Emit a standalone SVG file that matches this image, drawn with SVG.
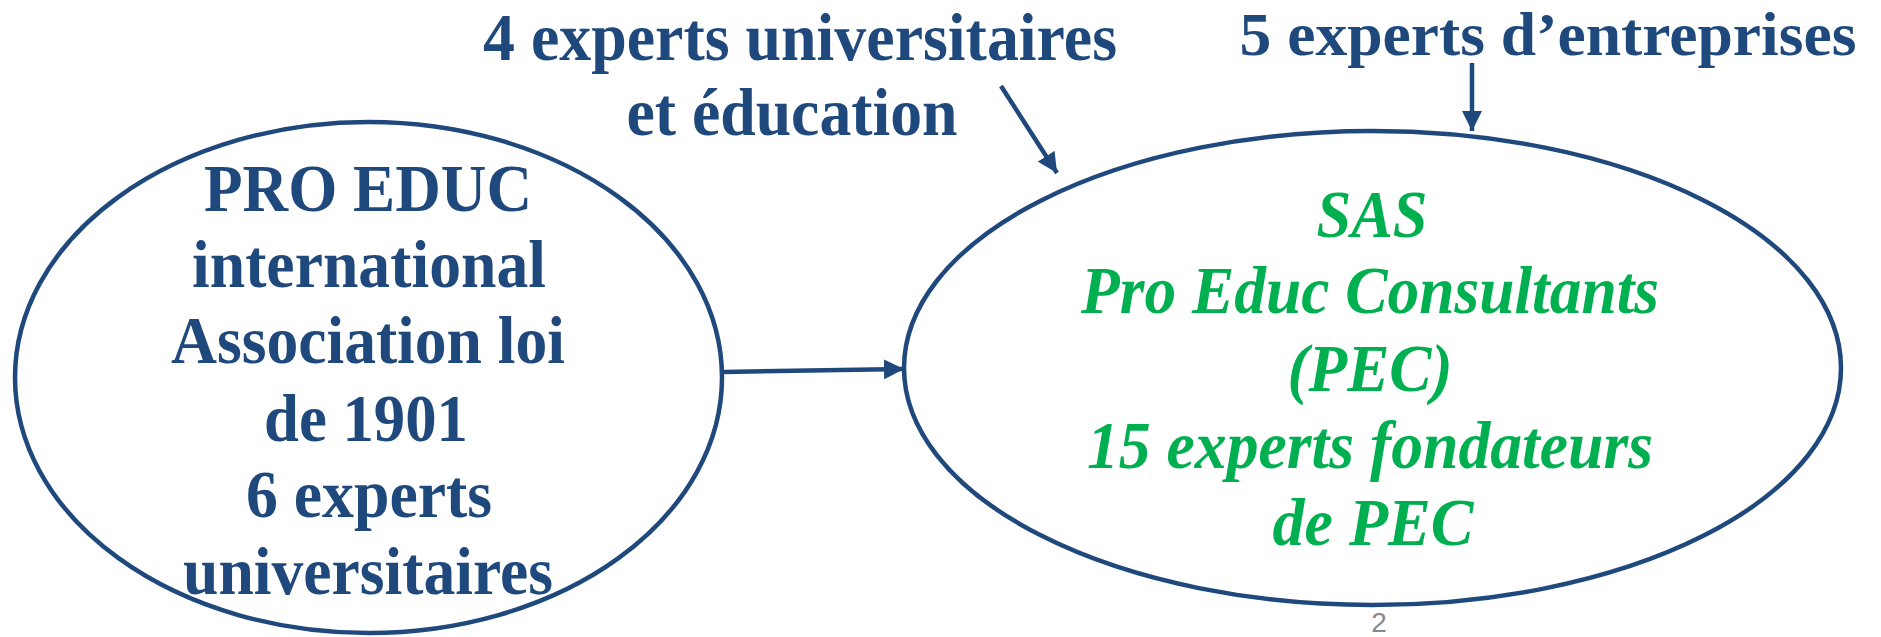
<svg xmlns="http://www.w3.org/2000/svg" width="1881" height="637" viewBox="0 0 1881 637">
<style>
.blue{font-family:"Liberation Serif","Times New Roman",serif;font-weight:bold;font-size:68px;fill:#1F497D;text-anchor:middle}
.green{font-family:"Liberation Serif","Times New Roman",serif;font-weight:bold;font-style:italic;font-size:68px;fill:#00B050;text-anchor:middle}
.node{fill:none;stroke:#1F497D;stroke-width:4.5}
.conn{stroke:#1F497D;stroke-width:4.5;fill:none;marker-end:url(#ah)}
</style>
<defs>
<marker id="ah" markerUnits="userSpaceOnUse" markerWidth="22" markerHeight="20" refX="20" refY="10" orient="auto">
<path d="M0,0 L20,10 L0,20 Z" fill="#1F497D"/>
</marker>
</defs>
<rect width="1881" height="637" fill="#FFFFFF"/>
<g id="label-univ">
<text class="blue" x="800" y="60" textLength="634" lengthAdjust="spacingAndGlyphs">4 experts universitaires</text>
<text class="blue" x="792" y="135" textLength="331" lengthAdjust="spacingAndGlyphs">et éducation</text>
</g>
<g id="label-entreprises">
<text class="blue" x="1548" y="55" font-size="62" style="font-size:62px" textLength="617" lengthAdjust="spacingAndGlyphs">5 experts d’entreprises</text>
</g>
<g id="node-proeduc">
<ellipse class="node" cx="368.5" cy="377.5" rx="353.5" ry="255.5"/>
<text class="blue" x="368" y="211" textLength="328" lengthAdjust="spacingAndGlyphs">PRO EDUC</text>
<text class="blue" x="369" y="287" textLength="354" lengthAdjust="spacingAndGlyphs">international</text>
<text class="blue" x="368" y="363" textLength="394" lengthAdjust="spacingAndGlyphs">Association loi</text>
<text class="blue" x="366" y="441" textLength="204" lengthAdjust="spacingAndGlyphs">de 1901</text>
<text class="blue" x="369" y="517" textLength="246" lengthAdjust="spacingAndGlyphs">6 experts</text>
<text class="blue" x="368" y="594" textLength="370" lengthAdjust="spacingAndGlyphs">universitaires</text>
</g>
<g id="node-pec">
<ellipse class="node" cx="1372.5" cy="368" rx="468.5" ry="237"/>
<text class="green" x="1372" y="237" textLength="111" lengthAdjust="spacingAndGlyphs">SAS</text>
<text class="green" x="1370" y="313" textLength="578" lengthAdjust="spacingAndGlyphs">Pro Educ Consultants</text>
<text class="green" x="1370" y="391" textLength="165" lengthAdjust="spacingAndGlyphs">(PEC)</text>
<text class="green" x="1370" y="468" textLength="566" lengthAdjust="spacingAndGlyphs">15 experts fondateurs</text>
<text class="green" x="1373" y="545" textLength="201" lengthAdjust="spacingAndGlyphs">de PEC</text>
</g>
<g id="connectors">
<line class="conn" x1="1001" y1="86" x2="1057" y2="173"/>
<line class="conn" x1="1472" y1="63" x2="1472" y2="131"/>
<line class="conn" x1="724" y1="372" x2="904" y2="369"/>
</g>
<g id="page-number">
<text x="1379" y="632" font-family="Liberation Sans, Arial, sans-serif" font-size="28" fill="#898989" text-anchor="middle">2</text>
</g>
</svg>
